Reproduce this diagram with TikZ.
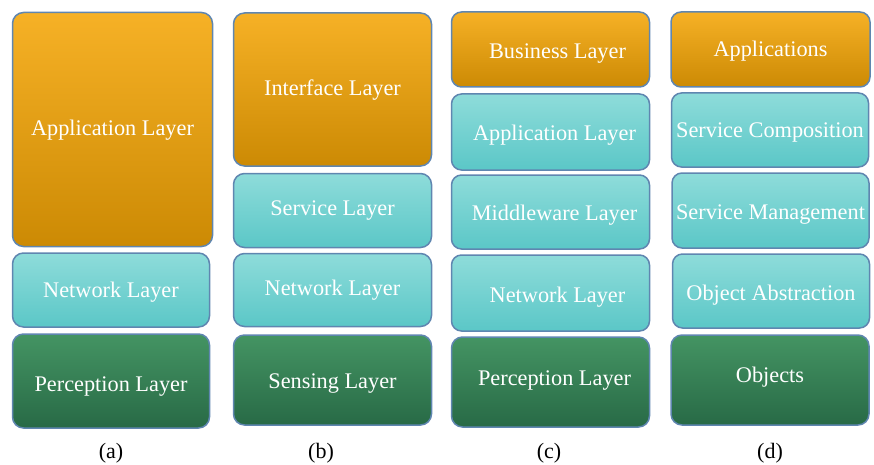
\documentclass[tikz,border=0pt]{standalone}
\usepackage{fontspec}
\setmainfont{Liberation Serif}
\newfontfamily\tms{Liberation Serif}
% invisible strut that moves the visual text down by #1 pt inside the box
\newcommand\lowered[2]{\rule[-20pt]{0pt}{\dimexpr 50.4pt+#1pt+#1pt\relax}#2}
\definecolor{orT}{HTML}{F6B126}
\definecolor{orB}{HTML}{CC8A04}
\definecolor{cyT}{HTML}{8EDCDA}
\definecolor{cyB}{HTML}{5BC7C7}
\definecolor{grT}{HTML}{449463}
\definecolor{grB}{HTML}{286A46}
\definecolor{edge}{HTML}{5F86B0}
\begin{document}
\begin{tikzpicture}[x=1pt,y=-1pt,
  layer/.style={draw=edge, line width=1.5pt, rounded corners=11pt, text=white,
    font=\tms\fontsize{22.3}{24}\selectfont, inner sep=0pt},
  orbox/.style={layer, top color=orT, bottom color=orB},
  cybox/.style={layer, top color=cyT, bottom color=cyB},
  grbox/.style={layer, top color=grT, bottom color=grB},
  sublabel/.style={font=\tms\fontsize{22}{24}\selectfont, text=black}]
\useasboundingbox (0,0) rectangle (874,465);
% column (a)
\node[orbox, minimum width=200pt, minimum height=234pt] (a1) at (112.5,129.5) {\lowered{1}{Application Layer}};
\node[cybox, minimum width=197pt, minimum height=74pt] (a2) at (111,290) {\lowered{2}{Network Layer}};
\node[grbox, minimum width=197pt, minimum height=94pt] (a3) at (111,381) {\lowered{5}{Perception Layer}};
\node[sublabel] (la) at (111,453) {(a)};
% column (b)
\node[orbox, minimum width=198pt, minimum height=153pt] (b1) at (332.5,89.5) {\lowered{1}{Interface Layer}};
\node[cybox, minimum width=198pt, minimum height=74pt] (b2) at (332.5,210.5) {\lowered{0}{Service Layer}};
\node[cybox, minimum width=198pt, minimum height=73pt] (b3) at (332.5,290) {\lowered{0}{Network Layer}};
\node[grbox, minimum width=198pt, minimum height=90pt] (b4) at (332.5,380) {\lowered{3}{Sensing Layer}};
\node[sublabel] (lb) at (321,453) {(b)};
% column (c)
\node[orbox, minimum width=198pt, minimum height=75pt, rounded corners=10pt] (c1) at (550.5,49.5) {\hspace*{14pt}\lowered{4}{Business Layer}};
\node[cybox, minimum width=198pt, minimum height=76pt, rounded corners=10pt] (c2) at (550.5,132) {\hspace*{8pt}\lowered{3}{Application Layer}};
\node[cybox, minimum width=198pt, minimum height=74pt, rounded corners=10pt] (c3) at (550.5,212) {\hspace*{8pt}\lowered{3}{Middleware Layer}};
\node[cybox, minimum width=198pt, minimum height=76pt, rounded corners=10pt] (c4) at (550.5,293) {\hspace*{14pt}\lowered{4}{Network Layer}};
\node[grbox, minimum width=198pt, minimum height=90pt] (c5) at (550.5,382) {\hspace*{8pt}\lowered{-2}{Perception Layer}};
\node[sublabel] (lc) at (549,453) {(c)};
% column (d)
\node[orbox, minimum width=199pt, minimum height=75pt, rounded corners=10pt] (d1) at (770.5,49.5) {\lowered{2}{Applications}};
\node[cybox, minimum width=197pt, minimum height=74pt, rounded corners=10pt] (d2) at (770,130) {\lowered{2}{Service Composition}};
\node[cybox, minimum width=197pt, minimum height=75pt, rounded corners=10pt] (d3) at (770.5,210.5) {\lowered{4}{Service Management}};
\node[cybox, minimum width=197pt, minimum height=74pt, rounded corners=10pt] (d4) at (771,291) {\lowered{4}{Object Abstraction}};
\node[grbox, minimum width=198pt, minimum height=90pt] (d5) at (770,380) {\lowered{-3}{Objects}};
\node[sublabel] (ld) at (770,453) {(d)};
\end{tikzpicture}
\end{document}
